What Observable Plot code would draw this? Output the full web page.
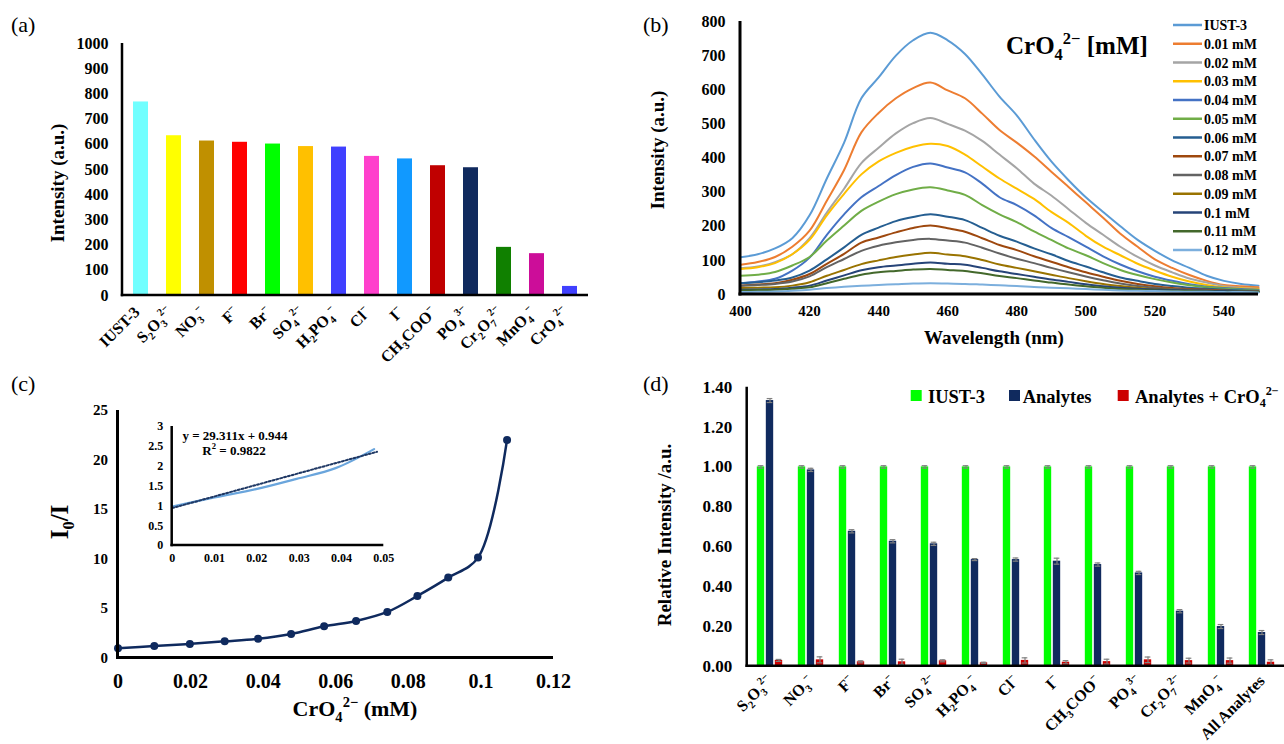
<!DOCTYPE html>
<html><head><meta charset="utf-8">
<script src="https://cdn.jsdelivr.net/npm/d3@7"></script>
<script src="https://cdn.jsdelivr.net/npm/@observablehq/plot@0.6"></script>
<style>
body{margin:0;background:#fff;}
#root{position:relative;width:1284px;height:744px;overflow:hidden;background:#fff;}
</style></head><body><div id="root"></div>
<script>
// ---------------- DATA ----------------
// (a) intensity of IUST-3 with each anion
const anionsA = ["IUST-3","S_2O_3^{2−}","NO_3^{−}","F^{−}","Br^{−}","SO_4^{2−}","H_2PO_4^{−}","Cl^{−}","I^{−}","CH_3COO^{−}","PO_4^{3−}","Cr_2O_7^{2−}","MnO_4^{−}","CrO_4^{2−}"];
const intensityA = [768,634,613,608,601,591,589,552,542,515,507,191,166,36];
const colorsA = ["#70FFFF","#FFFF00","#C09000","#FF0000","#00FF00","#FFC000","#4040FF","#FF40CC","#1199FF","#C00000","#102A5E","#108000","#CC0D99","#4040FF"];
const yTicksA = [0,100,200,300,400,500,600,700,800,900,1000];

// (b) emission spectra
const wavelengths = [400,405,410,415,420,425,430,435,440,445,450,455,460,465,470,475,480,485,490,495,500,505,510,515,520,525,530,535,540,545,550];
const seriesB = ["IUST-3","0.01 mM","0.02 mM","0.03 mM","0.04 mM","0.05 mM","0.06 mM","0.07 mM","0.08 mM","0.09 mM","0.1 mM","0.11 mM","0.12 mM"];
const colorsB = ["#5B9BD5","#ED7D31","#A5A5A5","#FFC000","#4472C4","#70AD47","#255E91","#9E480E","#636363","#997300","#264478","#43682B","#7CAFDD"];
const specIUST3 = [109,118,135,165,232,340,445,575,636,700,745,767,745,705,645,580,525,455,390,335,285,242,200,160,128,100,78,55,40,31,26];
const spec001 = [87,95,110,140,187,275,365,475,532,575,605,621,598,575,530,482,445,405,360,315,270,225,178,140,103,78,57,40,28,24,21];
const spec002 = [77,82,95,118,165,240,310,385,430,472,502,517,500,480,450,410,370,325,290,250,210,175,140,110,85,65,47,35,25,20,17];
const spec003 = [75,80,92,118,160,232,295,352,390,415,433,442,435,410,375,340,310,280,242,210,172,140,115,90,70,52,38,28,21,18,16];
const spec004 = [33,38,46,70,108,175,235,285,318,350,374,384,372,358,325,285,262,232,195,168,140,112,88,68,52,40,30,23,19,16,14];
const spec005 = [55,58,66,85,110,158,202,245,272,294,308,314,305,292,262,235,212,185,160,135,115,92,72,57,45,35,27,21,17,14,12];
const spec006 = [33,36,41,50,70,103,138,175,196,215,227,235,228,218,195,172,155,135,118,98,82,65,50,40,31,25,20,17,14,12,10];
const spec007 = [26,29,33,43,60,90,119,152,167,182,195,202,194,184,165,145,130,112,96,80,65,52,40,31,24,19,16,14,12,10,9];
const spec008 = [26,28,31,38,53,80,104,128,143,153,160,163,158,152,137,120,105,92,78,65,53,42,32,25,20,16,14,12,11,10,9];
const spec009 = [19,20,21,26,36,55,72,89,100,110,117,122,117,112,101,88,78,68,58,48,39,31,25,20,16,14,12,11,10,9,9];
const spec010 = [14,15,16,20,26,41,56,71,80,85,90,94,90,87,78,68,60,52,44,37,30,24,20,17,15,13,12,11,10,9,8];
const spec011 = [12,13,14,17,21,33,46,58,65,69,73,75,72,69,62,54,48,41,35,29,24,20,16,14,12,11,10,9,8,8,7];
const spec012 = [7,8,9,11,14,19,23,26,28,30,32,33,32,31,29,27,25,22,20,18,16,14,12,11,10,9,8,8,7,7,6];
const yTicksB = [0,100,200,300,400,500,600,700,800];
const xTicksB = [400,420,440,460,480,500,520,540];

// (c) Stern–Volmer plot
const concC = [0,0.0100,0.0198,0.0294,0.0386,0.0477,0.0568,0.0656,0.0742,0.0825,0.0910,0.0992,0.1072];
const ratioC = [0.98,1.21,1.42,1.68,1.95,2.43,3.20,3.74,4.65,6.27,8.12,10.14,22.03];
const xTicksC = [0,0.02,0.04,0.06,0.08,0.1,0.12];
const yTicksC = [0,5,10,15,20,25];
// inset (linear range) and its trend line
const insetCount = 6;
const trendX = [0,0.0484];
const trendY = [0.944,2.363];
const xTicksInset = [0,0.01,0.02,0.03,0.04,0.05];
const yTicksInset = [0,0.5,1,1.5,2,2.5,3];

// (d) selectivity / competition
const anionsD = ["S_2O_3^{2−}","NO_3^{−}","F^{−}","Br^{−}","SO_4^{2−}","H_2PO_4^{−}","Cl^{−}","I^{−}","CH_3COO^{−}","PO_4^{3−}","Cr_2O_7^{2−}","MnO_4^{−}","All Analytes"];
const iust3D = [1,1,1,1,1,1,1,1,1,1,1,1,1];
const iust3Err = [0.006,0.006,0.006,0.006,0.006,0.006,0.006,0.006,0.006,0.006,0.006,0.006,0.006];
const analytesD = [1.333,0.985,0.677,0.627,0.614,0.535,0.535,0.527,0.510,0.468,0.276,0.199,0.169];
const analytesErr = [0.010,0.008,0.008,0.008,0.008,0.005,0.008,0.015,0.008,0.008,0.008,0.010,0.010];
const crD = [0.029,0.032,0.022,0.022,0.027,0.017,0.029,0.020,0.023,0.032,0.028,0.028,0.020];
const crErr = [0.005,0.015,0.005,0.013,0.005,0.003,0.013,0.008,0.012,0.014,0.012,0.013,0.012];
const seriesD = ["IUST-3","Analytes","Analytes + CrO_4^{2−}"];
const colorsD = ["#00FF00","#102A5E","#CC0000"];
const yTicksD = [0,0.2,0.4,0.6,0.8,1.0,1.2,1.4];

// ---------------- HELPERS ----------------
const FONT = '"Liberation Serif","Times New Roman",serif';
const root = document.getElementById("root");
function place(node, left, top){
  node.style.position = "absolute"; node.style.left = left + "px"; node.style.top = top + "px";
  node.style.maxWidth = "none"; node.style.overflow = "visible"; node.style.background = "transparent";
  root.appendChild(node);
}
function parseRich(s){
  const out = []; let i = 0, buf = "";
  while (i < s.length){
    const c = s[i];
    if (c === "_" || c === "^"){
      if (buf){ out.push({t: buf, m: 0}); buf = ""; }
      let t;
      if (s[i+1] === "{"){ const j = s.indexOf("}", i+2); t = s.slice(i+2, j); i = j+1; }
      else { t = s[i+1]; i += 2; }
      out.push({t, m: c === "_" ? 1 : 2});
    } else { buf += c; i++; }
  }
  if (buf) out.push({t: buf, m: 0});
  return out;
}
function setRich(sel, s, fs){
  sel.text(null);
  let cur = 0;
  for (const seg of parseRich(s)){
    const target = seg.m === 1 ? 0.25*fs : seg.m === 2 ? -0.40*fs : 0;
    const ts = sel.append("tspan").text(seg.t);
    if (target !== cur) ts.attr("dy", (target-cur).toFixed(2) + "px");
    if (seg.m) ts.attr("font-size", (0.66*fs).toFixed(2) + "px");
    cur = target;
  }
}
function richTicks(svg, fs){
  d3.select(svg).selectAll('g[aria-label="x-axis tick label"] text').each(function(){
    setRich(d3.select(this), this.textContent, fs);
  });
}
function addText(svg, o){
  const t = d3.select(svg).append("text")
    .attr("transform", `translate(${o.x},${o.y}) rotate(${o.rotate||0})`)
    .attr("text-anchor", o.anchor || "middle")
    .attr("font-size", o.size).attr("font-weight", o.weight || "bold")
    .attr("font-family", FONT).attr("fill", "#000");
  setRich(t, o.text, o.size);
  return t;
}
function axisLines(svg, plot, w){
  const xr = plot.scale("x").range, yr = plot.scale("y").range;
  const g = d3.select(svg).append("g").attr("stroke", "#000").attr("stroke-width", w);
  g.append("line").attr("x1", xr[0]).attr("x2", xr[0]).attr("y1", yr[0] + w/2).attr("y2", yr[1]);
  g.append("line").attr("x1", xr[0] - w/2).attr("x2", xr[1]).attr("y1", yr[0]).attr("y2", yr[0]);
}
const baseStyle = {fontFamily: FONT, background: "transparent", overflow: "visible", color: "#000"};
const fmt2 = d => String(+(+d).toFixed(2));

// ---------------- PANEL (a) ----------------
const dataA = anionsA.map((a, i) => ({anion: a, value: intensityA[i], color: colorsA[i]}));
const svgA = Plot.plot({
  width: 640, height: 370, marginLeft: 122, marginRight: 52, marginTop: 43, marginBottom: 75,
  style: baseStyle,
  x: {domain: anionsA, paddingInner: 0.55, paddingOuter: 0.275},
  y: {domain: [0, 1000]},
  color: {type: "identity"},
  marks: [
    Plot.barY(dataA, {x: "anion", y: "value", fill: "color"}),
    Plot.axisY({ticks: yTicksA, tickFormat: d => String(d), tickSize: 0, tickPadding: 14, fontSize: 16, fontWeight: "bold", label: null}),
    Plot.axisX({tickSize: 0, tickPadding: 14, dx: -4, tickRotate: -45, fontSize: 16, fontWeight: "bold", label: null})
  ]
});
place(svgA, 0, 0);
richTicks(svgA, 16);
axisLines(svgA, svgA, 2.5);
addText(svgA, {x: 11, y: 32, text: "(a)", size: 22, weight: "normal", anchor: "start"});
addText(svgA, {x: 64, y: 183, text: "Intensity (a.u.)", size: 19, rotate: -90});

// ---------------- PANEL (b) ----------------
const spectra = [specIUST3, spec001, spec002, spec003, spec004, spec005, spec006, spec007, spec008, spec009, spec010, spec011, spec012];
const dataB = seriesB.flatMap((s, k) => wavelengths.map((w, i) => ({series: s, wl: w, I: spectra[k][i]})));
const svgB = Plot.plot({
  width: 644, height: 370, marginLeft: 100, marginRight: 26, marginTop: 21, marginBottom: 76,
  style: baseStyle,
  x: {domain: [400, 550]},
  y: {domain: [0, 800]},
  color: {domain: seriesB, range: colorsB},
  marks: [
    Plot.line(dataB, {x: "wl", y: "I", z: "series", stroke: "series", strokeWidth: 2, curve: "catmull-rom"}),
    Plot.axisY({ticks: yTicksB, tickSize: 0, tickPadding: 15, fontSize: 16, fontWeight: "bold", label: null}),
    Plot.axisX({ticks: xTicksB, tickSize: 0, tickPadding: 11, fontSize: 15, fontWeight: "bold", label: null})
  ]
});
place(svgB, 640, 0);
axisLines(svgB, svgB, 3);
addText(svgB, {x: 3, y: 32, text: "(b)", size: 22, weight: "normal", anchor: "start"});
addText(svgB, {x: 24, y: 150, text: "Intensity (a.u.)", size: 19, rotate: -90});
addText(svgB, {x: 354, y: 344, text: "Wavelength (nm)", size: 19});
addText(svgB, {x: 366, y: 54, text: "CrO_4^{2−} [mM]", size: 25, anchor: "start"});
{
  const g = d3.select(svgB).append("g");
  seriesB.forEach((s, i) => {
    const y = 25 + 18.75*i;
    g.append("line").attr("x1", 533).attr("x2", 562).attr("y1", y).attr("y2", y)
      .attr("stroke", colorsB[i]).attr("stroke-width", 2.5);
    g.append("text").attr("x", 564).attr("y", y + 5).attr("font-size", 14).attr("font-weight", "bold")
      .attr("text-anchor", "start").attr("font-family", FONT).attr("fill", "#000").text(s);
  });
}

// ---------------- PANEL (c) ----------------
const dataC = concC.map((c, i) => ({c, r: ratioC[i]}));
const svgC = Plot.plot({
  width: 640, height: 374, marginLeft: 117.5, marginRight: 87, marginTop: 40, marginBottom: 86.5,
  style: baseStyle,
  x: {domain: [0, 0.12]},
  y: {domain: [0, 25]},
  marks: [
    Plot.line(dataC, {x: "c", y: "r", stroke: "#0F2A5E", strokeWidth: 2.5, curve: "catmull-rom"}),
    Plot.dot(dataC, {x: "c", y: "r", r: 4, fill: "#0F2A5E", stroke: "none"}),
    Plot.axisY({ticks: yTicksC, tickSize: 0, tickPadding: 10, fontSize: 15, fontWeight: "bold", label: null}),
    Plot.axisX({ticks: xTicksC, tickFormat: fmt2, tickSize: 0, tickPadding: 16, fontSize: 20, fontWeight: "bold", label: null})
  ]
});
place(svgC, 0, 370);
axisLines(svgC, svgC, 3);
addText(svgC, {x: 11, y: 21, text: "(c)", size: 22, weight: "normal", anchor: "start"});
addText(svgC, {x: 68, y: 152, text: "I_0/I", size: 25, rotate: -90});
addText(svgC, {x: 355, y: 346, text: "CrO_4^{2−} (mM)", size: 22});

// inset
const dataInset = dataC.slice(0, insetCount);
const dataTrend = trendX.map((x, i) => ({x, y: trendY[i]}));
const svgI = Plot.plot({
  width: 275, height: 160, marginLeft: 51.7, marginRight: 11.7, marginTop: 16, marginBottom: 25,
  style: baseStyle,
  x: {domain: [0, 0.05]},
  y: {domain: [0, 3]},
  marks: [
    Plot.line(dataInset, {x: "c", y: "r", stroke: "#6AA5DC", strokeWidth: 2.2, curve: "catmull-rom"}),
    Plot.line(dataTrend, {x: "x", y: "y", stroke: "#1F3864", strokeWidth: 2, strokeDasharray: "2,2"}),
    Plot.axisY({ticks: yTicksInset, tickFormat: fmt2, tickSize: 0, tickPadding: 9, fontSize: 12, fontWeight: "bold", label: null}),
    Plot.axisX({ticks: xTicksInset, tickFormat: fmt2, tickSize: 0, tickPadding: 8, fontSize: 12, fontWeight: "bold", label: null})
  ]
});
place(svgI, 120, 410);
axisLines(svgI, svgI, 2.5);
addText(svgI, {x: 115, y: 30, text: "y = 29.311x + 0.944", size: 13});
addText(svgI, {x: 114, y: 44.5, text: "R^2 = 0.9822", size: 13});

// ---------------- PANEL (d) ----------------
const dataD = anionsD.map((a, i) => ({anion: a,
  g: iust3D[i], ge: iust3Err[i], n: analytesD[i], ne: analytesErr[i], r: crD[i], re: crErr[i]}));
const bw = (644 - 106.7) / anionsD.length;
const off = [-9, 0, 9], barHalf = 3.85, capHalf = 3;
const barIns = o => ({insetLeft: bw/2 + o - barHalf, insetRight: bw/2 - o - barHalf});
const capIns = o => ({insetLeft: bw/2 + o - capHalf, insetRight: bw/2 - o - capHalf});
const keys = [["g","ge"],["n","ne"],["r","re"]];
const marksD = [];
keys.forEach(([v, e], k) => {
  marksD.push(Plot.barY(dataD, {x: "anion", y: v, fill: colorsD[k], ...barIns(off[k])}));
});
keys.forEach(([v, e], k) => {
  marksD.push(Plot.ruleX(dataD, {x: "anion", y1: d => d[v] - d[e], y2: d => d[v] + d[e], dx: off[k], stroke: "#808080", strokeWidth: 1.2}));
  marksD.push(Plot.tickY(dataD, {x: "anion", y: d => d[v] + d[e], stroke: "#808080", strokeWidth: 1.2, ...capIns(off[k])}));
  marksD.push(Plot.tickY(dataD, {x: "anion", y: d => d[v] - d[e], stroke: "#808080", strokeWidth: 1.2, ...capIns(off[k])}));
});
const svgD = Plot.plot({
  width: 644, height: 374, marginLeft: 106.7, marginRight: 0, marginTop: 16.7, marginBottom: 78.3,
  style: baseStyle,
  x: {domain: anionsD, padding: 0},
  y: {domain: [0, 1.4]},
  marks: [
    ...marksD,
    Plot.axisY({ticks: yTicksD, tickFormat: d3.format(".2f"), tickSize: 0, tickPadding: 15, fontSize: 17, fontWeight: "bold", label: null}),
    Plot.axisX({tickSize: 0, tickPadding: 12, tickRotate: -45, fontSize: 16, fontWeight: "bold", label: null})
  ]
});
place(svgD, 640, 370);
richTicks(svgD, 16);
axisLines(svgD, svgD, 2.5);
addText(svgD, {x: 3, y: 21, text: "(d)", size: 22, weight: "normal", anchor: "start"});
addText(svgD, {x: 31, y: 165, text: "Relative Intensity /a.u.", size: 19, rotate: -90});
{
  const g = d3.select(svgD).append("g");
  const pos = [[270.7, 288], [369, 382.7], [477.7, 495]];
  seriesD.forEach((s, i) => {
    g.append("rect").attr("x", pos[i][0]).attr("y", 20).attr("width", 11).attr("height", 11).attr("fill", colorsD[i]);
    const t = g.append("text").attr("x", pos[i][1]).attr("y", 32.5).attr("font-size", 18.5).attr("font-weight", "bold")
      .attr("text-anchor", "start").attr("font-family", FONT).attr("fill", "#000");
    setRich(t, s, 18.5);
  });
}
</script></body></html>
